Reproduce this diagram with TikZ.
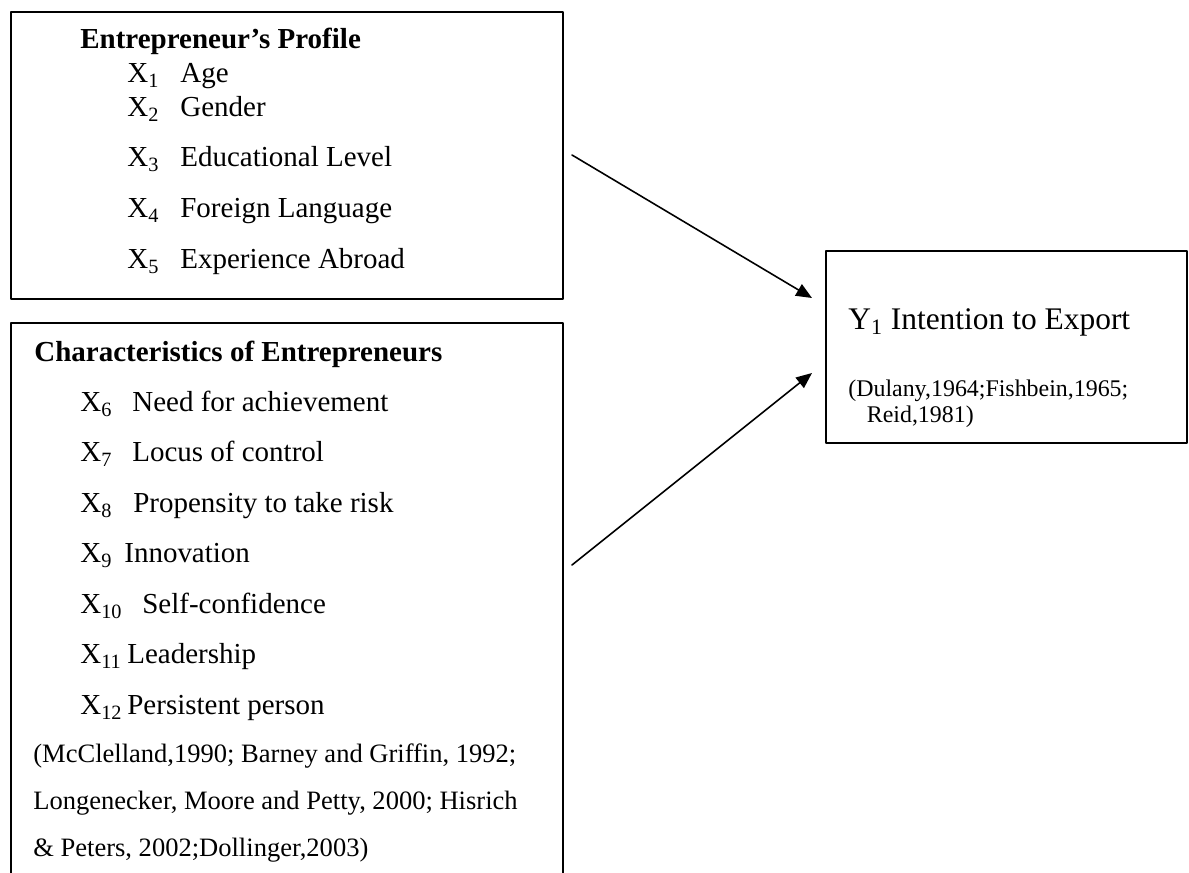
\documentclass[tikz,border=0pt]{standalone}
\usepackage{fontspec, tkz-euclide}
\usetikzlibrary{arrows.meta}
\setmainfont{Liberation Serif}

\begin{document}
\begin{tikzpicture}[every node/.append style = {inner sep = 0pt}]
\useasboundingbox (0,0) rectangle (23.78,17.46);
\clip (0,0) rectangle (23.78,17.46);
\tkzDefPoints{0.22/17.22/A, 11.26/17.22/B, 11.26/11.48/C, 0.22/11.48/D}
\tkzDefPoints{0.22/11.00/E, 11.26/11.00/F, 11.26/-0.3/G, 0.22/-0.3/H}
\tkzDefPoints{16.52/12.44/K, 23.74/12.44/L, 23.74/8.60/M, 16.52/8.60/N}
\tkzDrawPolygon[line width = 1.1pt](A,B,C,D)
\tkzDrawPolygon[line width = 1.1pt](E,F,G,H)
\tkzDrawPolygon[line width = 1.1pt](K,L,M,N)
\tkzDefPoints{11.44/14.36/P, 16.24/11.50/Q, 11.44/6.16/R, 16.24/10.00/S}
\tkzDrawSegment[line width = 0.9pt, -{Triangle[length=9pt, width=7.5pt]}](P,Q)
\tkzDrawSegment[line width = 0.9pt, -{Triangle[length=9pt, width=7.5pt]}](R,S)
% entrepreneur's profile
\begin{scope}[font = \fontsize{16.5}{20}\selectfont]
\node (prof) at (1.60,16.49) [anchor = base west] {\textbf{Entrepreneur’s Profile}};
\node (x1) at (2.54,15.81) [anchor = base west] {X\textsubscript{1}};
\node (age) at (3.60,15.81) [anchor = base west] {Age};
\node (x2) at (2.54,15.13) [anchor = base west] {X\textsubscript{2}};
\node (gender) at (3.60,15.13) [anchor = base west] {Gender};
\node (x3) at (2.54,14.13) [anchor = base west] {X\textsubscript{3}};
\node (edu) at (3.60,14.13) [anchor = base west] {Educational Level};
\node (x4) at (2.54,13.11) [anchor = base west] {X\textsubscript{4}};
\node (lang) at (3.60,13.11) [anchor = base west] {Foreign Language};
\node (x5) at (2.54,12.09) [anchor = base west] {X\textsubscript{5}};
\node (abroad) at (3.60,12.09) [anchor = base west] {Experience Abroad};
% characteristics
\node (char) at (0.68,10.22) [anchor = base west] {\textbf{Characteristics of Entrepreneurs}};
\node (x6) at (1.60,9.23) [anchor = base west] {X\textsubscript{6}};
\node (need) at (2.64,9.23) [anchor = base west] {Need for achievement};
\node (x7) at (1.60,8.22) [anchor = base west] {X\textsubscript{7}};
\node (locus) at (2.64,8.22) [anchor = base west] {Locus of control};
\node (x8) at (1.60,7.21) [anchor = base west] {X\textsubscript{8}};
\node (risk) at (2.66,7.21) [anchor = base west] {Propensity to take risk};
\node (x9) at (1.60,6.20) [anchor = base west] {X\textsubscript{9}};
\node (innov) at (2.48,6.20) [anchor = base west] {Innovation};
\node (x10) at (1.60,5.19) [anchor = base west] {X\textsubscript{10}};
\node (conf) at (2.84,5.19) [anchor = base west] {Self-confidence};
\node (x11) at (1.60,4.18) [anchor = base west] {X\textsubscript{11}};
\node (lead) at (2.54,4.18) [anchor = base west] {Leadership};
\node (x12) at (1.60,3.17) [anchor = base west] {X\textsubscript{12}};
\node (pers) at (2.54,3.17) [anchor = base west] {Persistent person};
\end{scope}
\begin{scope}[font = \fontsize{15.1}{18}\selectfont]
\node (ref1) at (0.66,2.21) [anchor = base west] {(McClelland,1990; Barney and Griffin, 1992;};
\node (ref2) at (0.66,1.26) [anchor = base west] {Longenecker, Moore and Petty, 2000; Hisrich};
\node (ref3) at (0.66,0.33) [anchor = base west] {\& Peters, 2002;Dollinger,2003)};
\end{scope}
% intention to export
\node (y1) at (16.96,10.87) [anchor = base west, font = \fontsize{17.9}{21}\selectfont] {Y\textsubscript{1} Intention to Export};
\node (ref4) at (16.96,9.52) [anchor = base west, font = \fontsize{13.6}{16}\selectfont] {(Dulany,1964;Fishbein,1965;};
\node (ref5) at (17.33,9.00) [anchor = base west, font = \fontsize{13.6}{16}\selectfont] {Reid,1981)};
\end{tikzpicture}
\end{document}
